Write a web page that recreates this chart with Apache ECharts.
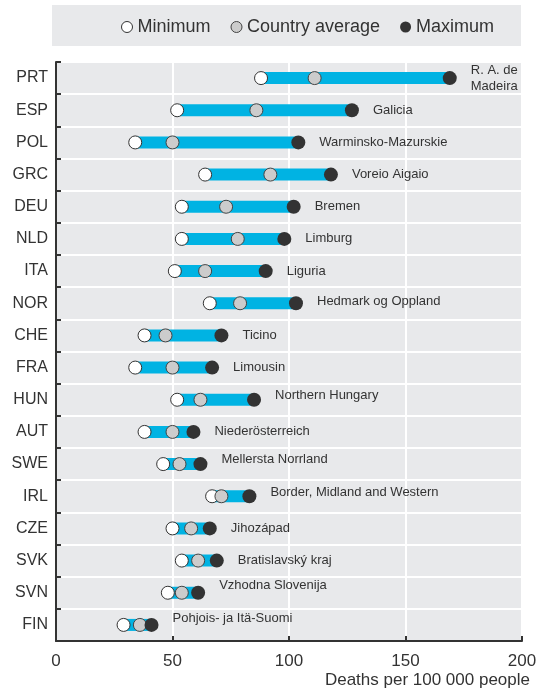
<!DOCTYPE html>
<html>
<head>
<meta charset="utf-8">
<script src="https://cdn.jsdelivr.net/npm/echarts@6/dist/echarts.min.js"></script>
<style>
  html, body { margin: 0; padding: 0; background: #fff; }
  #chart { width: 545px; height: 695px; }
</style>
</head>
<body>
<div id="chart"></div>
<script>
// countries, top to bottom
const countries = ['PRT', 'ESP', 'POL', 'GRC', 'DEU', 'NLD', 'ITA', 'NOR', 'CHE', 'FRA',
  'HUN', 'AUT', 'SWE', 'IRL', 'CZE', 'SVK', 'SVN', 'FIN'];
const regions = ['R. A. de\nMadeira', 'Galicia', 'Warminsko-Mazurskie', 'Voreio Aigaio', 'Bremen',
  'Limburg', 'Liguria', 'Hedmark og Oppland', 'Ticino', 'Limousin', 'Northern Hungary',
  'Niederösterreich', 'Mellersta Norrland', 'Border, Midland and Western', 'Jihozápad',
  'Bratislavský kraj', 'Vzhodna Slovenija', 'Pohjois- ja Itä-Suomi'];
const minValues = [88, 52, 34, 64, 54, 54, 51, 66, 38, 34, 52, 38, 46, 67, 50, 54, 48, 29];
const avgValues = [111, 86, 50, 92, 73, 78, 64, 79, 47, 50, 62, 50, 53, 71, 58, 61, 54, 36];
const maxValues = [169, 127, 104, 118, 102, 98, 90, 103, 71, 67, 85, 59, 62, 83, 66, 69, 61, 41];
const xTicks = [0, 50, 100, 150, 200];

// some region labels sit a little higher than their dot
const labelLift = { NOR: 2, HUN: 4, SWE: 5, IRL: 4, SVN: 7, FIN: 6 };

const FONT = '"Liberation Sans Narrow", "Liberation Sans", Arial, sans-serif';
const chart = echarts.init(document.getElementById('chart'), null, { renderer: 'canvas' });

const maxData = maxValues.map((v, i) => {
  const lift = labelLift[countries[i]] || 0;
  return {
    value: [v, countries[i]],
    label: { offset: [0, -lift] }
  };
});

const option = {
  backgroundColor: '#ffffff',
  animation: false,
  graphic: [
    {
      type: 'rect',
      shape: { x: 52, y: 5, width: 469, height: 41 },
      style: { fill: '#e8e9eb' },
      z: -1
    },
    {
      type: 'text',
      right: 15,
      top: 672,
      style: { text: 'Deaths per 100 000 people', font: '17px ' + FONT, fill: '#333' }
    }
  ],
  legend: {
    top: 13,
    left: 116,
    data: ['Minimum', 'Country average', 'Maximum'],
    itemWidth: 11,
    itemHeight: 11,
    itemGap: 20,
    itemStyle: { borderWidth: 1 },
    textStyle: { fontSize: 18, fontFamily: FONT, color: '#333', padding: [0, 0, 0, 0] }
  },
  grid: {
    left: 56,
    right: 23,
    top: 62,
    bottom: 54,
    show: true,
    backgroundColor: '#e8e9eb',
    borderWidth: 0
  },
  xAxis: {
    type: 'value',
    min: 0,
    max: 200,
    interval: 50,
    axisLine: { show: true, onZero: false, lineStyle: { color: '#333', width: 2 } },
    axisTick: { show: true, inside: true, length: 5, lineStyle: { color: '#333', width: 2 } },
    axisLabel: {
      fontSize: 17, fontFamily: FONT, color: '#333', margin: 12,
      formatter: v => (xTicks.indexOf(v) >= 0 ? String(v) : '')
    },
    splitLine: { show: true, lineStyle: { color: '#ffffff', width: 2 } }
  },
  yAxis: {
    type: 'category',
    data: countries,
    inverse: true,
    axisLine: { show: true, lineStyle: { color: '#333', width: 2 } },
    axisTick: { show: true, inside: true, length: 5, lineStyle: { color: '#333', width: 2 } },
    axisLabel: { fontSize: 16, fontFamily: FONT, color: '#333', margin: 8 },
    splitLine: { show: true, lineStyle: { color: '#ffffff', width: 2 } }
  },
  series: [
    {
      name: 'base',
      type: 'bar',
      stack: 'range',
      barWidth: 12,
      silent: true,
      itemStyle: { color: 'transparent' },
      data: minValues
    },
    {
      name: 'range',
      type: 'bar',
      stack: 'range',
      barWidth: 12,
      silent: true,
      itemStyle: { color: '#00b3e3' },
      data: maxValues.map((v, i) => v - minValues[i])
    },
    {
      name: 'Minimum',
      type: 'scatter',
      symbolSize: 13,
      z: 3,
      itemStyle: { color: '#ffffff', borderColor: '#333', borderWidth: 1, opacity: 1 },
      data: minValues.map((v, i) => [v, countries[i]])
    },
    {
      name: 'Country average',
      type: 'scatter',
      symbolSize: 13,
      z: 4,
      itemStyle: { color: '#cccccc', borderColor: '#444', borderWidth: 1, opacity: 1 },
      data: avgValues.map((v, i) => [v, countries[i]])
    },
    {
      name: 'Maximum',
      type: 'scatter',
      symbolSize: 14,
      z: 5,
      itemStyle: { color: '#333333', opacity: 1 },
      label: {
        show: true,
        position: 'right',
        distance: 14,
        fontSize: 13,
        lineHeight: 16,
        fontFamily: FONT,
        color: '#333',
        formatter: p => regions[p.dataIndex]
      },
      data: maxData
    }
  ]
};

chart.setOption(option);
</script>
</body>
</html>
